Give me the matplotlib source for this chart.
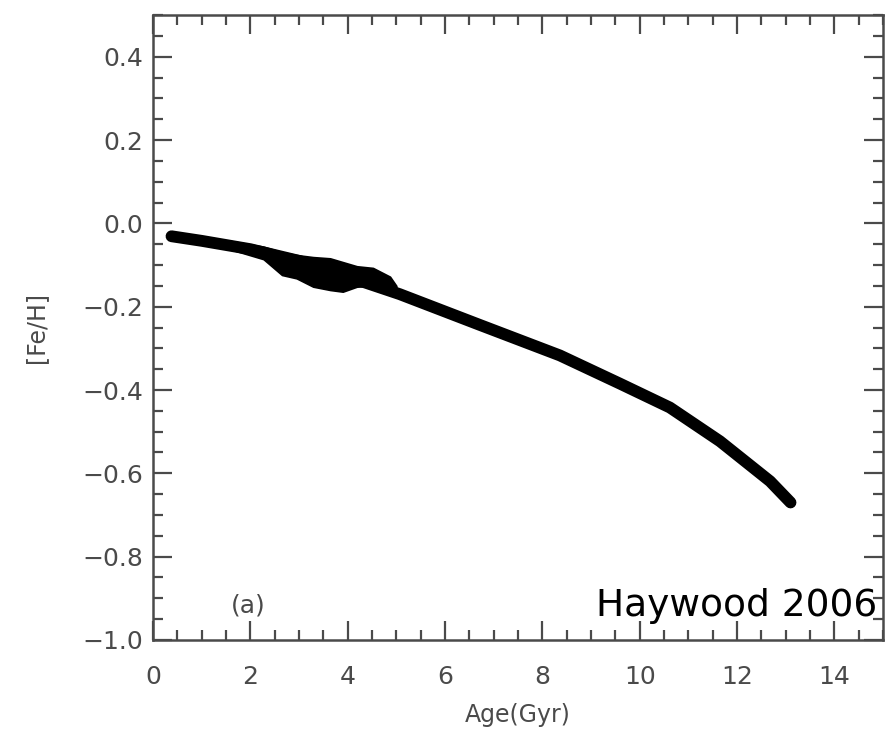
import matplotlib
matplotlib.use("Agg")
import matplotlib.pyplot as plt
from matplotlib.ticker import MultipleLocator

# Main age-metallicity relation
age = [0.38, 1.0, 2.0, 3.0, 4.0, 5.07, 6.72, 8.36, 9.6, 10.62, 11.65, 12.68, 13.1]
feh = [-0.031, -0.042, -0.062, -0.090, -0.128, -0.170, -0.244, -0.317, -0.385,
       -0.442, -0.523, -0.619, -0.670]

# Scatter cloud envelope around ages 1.5-5 Gyr
cloud_age = [1.58, 2.27, 2.65, 2.95, 3.29, 3.64, 3.90, 4.19, 4.52, 4.87, 5.0]
cloud_upper = [-0.042, -0.056, -0.069, -0.076, -0.081, -0.084, -0.093, -0.103, -0.107, -0.128, -0.150]
cloud_lower = [-0.062, -0.086, -0.124, -0.132, -0.152, -0.160, -0.164, -0.152, -0.150, -0.160, -0.165]

xticks = [0, 2, 4, 6, 8, 10, 12, 14]
yticks = [-1.0, -0.8, -0.6, -0.4, -0.2, 0.0, 0.2, 0.4]

fig = plt.figure(figsize=(8.86, 7.29), dpi=100)
ax = fig.add_axes([0.1727, 0.1221, 0.8239, 0.8573])

ax.plot(age, feh, color="black", lw=8.5, solid_capstyle="round",
        solid_joinstyle="round", zorder=3)
ax.fill_between(cloud_age, cloud_lower, cloud_upper, color="black", lw=1.2,
                edgecolor="black", zorder=3)

ax.set_xlim(0, 15)
ax.set_ylim(-1.0, 0.5)
ax.set_xticks(xticks)
ax.set_yticks(yticks)
ax.set_xticklabels([str(t) for t in xticks])
ax.set_yticklabels([f"{t:.1f}".replace("-", "\u2212") for t in yticks])
ax.xaxis.set_minor_locator(MultipleLocator(0.5))
ax.yaxis.set_minor_locator(MultipleLocator(0.05))

grey = "#4a4a4a"
ax.tick_params(which="both", direction="in", top=True, right=True, colors=grey,
               labelcolor=grey, labelsize=18, width=1.6)
ax.tick_params(which="major", length=14)
ax.tick_params(which="minor", length=7)
ax.tick_params(axis="x", which="major", pad=18)
ax.tick_params(axis="y", which="major", pad=7)
for s in ax.spines.values():
    s.set_color(grey)
    s.set_linewidth(1.8)

ax.set_xlabel("Age(Gyr)", fontsize=17, color=grey, labelpad=10)
ax.set_ylabel("[Fe/H]", fontsize=17, color=grey, labelpad=25)

ax.text(1.95, -0.918, "(a)", fontsize=18, color=grey, ha="center", va="center")
ax.text(14.88, -0.918, "Haywood 2006", fontsize=27, color="black", ha="right",
        va="center", zorder=5)

fig.savefig("out.png", dpi=100)
